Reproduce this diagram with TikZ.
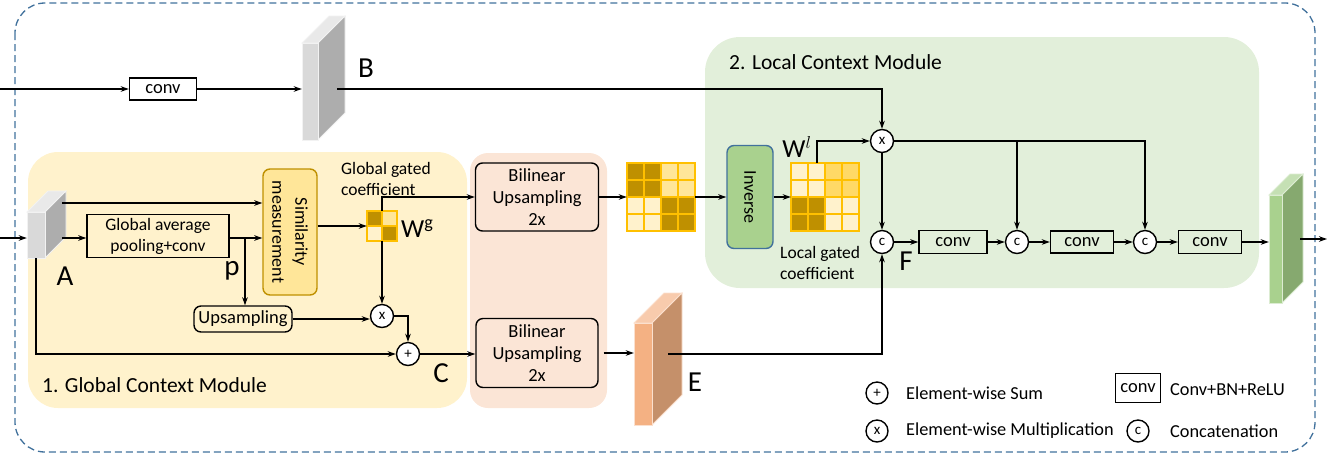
\documentclass[tikz,border=0pt]{standalone}
\usepackage{fontspec}
\setmainfont{Carlito}
\usetikzlibrary{arrows.meta,positioning}

\definecolor{frameblue}{HTML}{41719C}
\definecolor{gcmbg}{HTML}{FFF2CC}
\definecolor{upbg}{HTML}{FBE5D6}
\definecolor{lcmbg}{HTML}{E2EFDA}
\definecolor{simfill}{HTML}{FFE699}
\definecolor{simdraw}{HTML}{BF9000}
\definecolor{invfill}{HTML}{A9D18E}
\definecolor{invdraw}{HTML}{41719C}
\definecolor{gdark}{HTML}{BF9000}
\definecolor{glight}{HTML}{FFE699}
\definecolor{gmid}{HTML}{FFD966}
\definecolor{gpale}{HTML}{FFF2CC}
\definecolor{gline}{HTML}{FFC000}
\definecolor{grayfront}{HTML}{D9D9D9}
\definecolor{grayside}{HTML}{ADADAD}
\definecolor{graytop}{HTML}{E9E9E9}
\definecolor{orfront}{HTML}{F4B183}
\definecolor{orside}{HTML}{C5906A}
\definecolor{ortop}{HTML}{F8CBAD}
\definecolor{grfront}{HTML}{A9D18E}
\definecolor{grside}{HTML}{86A96F}
\definecolor{grtop}{HTML}{C5E0B4}

% feature map slab: name, x, y (front top left), width, height, depth, front, side, top
\newcommand{\featmap}[9]{%
  \filldraw[fill=#9, draw=#9!60!white, line width=0.8pt] (#2,#3) -- ++(#6,-#6) -- ++(#4,0) -- ++(-#6,#6) -- cycle;
  \filldraw[fill=#8, draw=#9!60!white, line width=0.8pt] (#2+#4,#3) -- ++(#6,-#6) -- ++(0,#5) -- ++(-#6,#6) -- cycle;
  \filldraw[fill=#7, draw=#9!60!white, line width=0.8pt] (#2,#3) rectangle ++(#4,#5);
  \node[inner sep=0, minimum width=#4pt, minimum height=#5pt] (#1) at (#2+#4/2,#3+#5/2) {};
}

% gated coefficient grid: name, centre x, centre y, cells per side, cell size, colours
\newcommand{\gategrid}[6]{%
  \foreach \clr [count=\k from 0] in {#6} {
    \pgfmathtruncatemacro{\gc}{mod(\k,#4)}
    \pgfmathtruncatemacro{\gr}{floor(\k/#4)}
    \filldraw[fill=\clr, draw=gline, line width=1.2pt] (#2-#4*#5/2+\gc*#5, #3-#4*#5/2+\gr*#5) rectangle ++(#5,#5);
  }
  \node[inner sep=0, minimum size={#4*#5*1pt}] (#1) at (#2,#3) {};
}

\begin{document}
\begin{tikzpicture}[x=1pt, y=-1pt,
    line/.style={line width=1.3pt},
    arr/.style={line, -{Stealth[length=8pt,width=5.5pt]}},
    frame/.style={draw=frameblue, dash pattern=on 7pt off 4pt, line width=1.3pt, rounded corners=30pt},
    convbox/.style={draw, line width=1.4pt, inner sep=0, font=\fontsize{18.5}{21}\selectfont},
    rbox/.style={draw, line width=1.4pt, rounded corners=7pt, inner sep=0, align=center, font=\fontsize{18.5}{22}\selectfont},
    op/.style={circle, draw, fill=white, line width=1.4pt, minimum size=23pt, inner sep=0, font=\fontsize{15}{15}\selectfont},
    letter/.style={inner sep=0, font=\fontsize{29}{29}\selectfont},
    wlabel/.style={inner sep=0, font=\fontsize{26}{26}\selectfont},
    note/.style={inner sep=0, anchor=west, align=left, font=\fontsize{17.5}{21}\selectfont},
    title/.style={inner sep=0, anchor=west, font=\fontsize{21.5}{24}\selectfont},
    legend/.style={inner sep=0, anchor=west, font=\fontsize{18.3}{20}\selectfont}]
\useasboundingbox (0,0) rectangle (1332,459);

% backgrounds
\draw[frame] (15,3) rectangle (1315,452);
\fill[gcmbg, rounded corners=30pt] (28,152) rectangle (467,408);
\fill[upbg, rounded corners=18pt] (470,153) rectangle (607,408);
\fill[lcmbg, rounded corners=35pt] (705,37) rectangle (1259,288);

\node[title] (gtitle) at (42,385) {1. Global Context Module};
\node[title] (ltitle) at (729,62) {2. Local Context Module};

% feature maps
\featmap{A}{27}{212}{18}{46}{21}{grayfront}{grayside}{graytop}
\featmap{B}{302}{43}{16}{97}{27}{grayfront}{grayside}{graytop}
\featmap{E}{634}{323}{18}{102}{30}{orfront}{orside}{ortop}
\featmap{out}{1269}{195}{13}{108}{21}{grfront}{grside}{grtop}

% global context module
\node[convbox, minimum width=67pt, minimum height=22pt] (conv0) at (163,89) {conv};
\node[convbox, fill=gcmbg, minimum width=142pt, minimum height=43pt, align=center, font=\fontsize{17.5}{21}\selectfont] (gap) at (158,236) {Global average\\pooling+conv};
\node[rbox, fill=simfill, draw=simdraw, minimum width=54pt, minimum height=126pt] (sim) at (290,232) {};
\node[rotate=-90, align=center, font=\fontsize{18}{23}\selectfont] (simtxt) at (sim) {Similarity\\measurement};
\node[rbox, fill=gcmbg, minimum width=98pt, minimum height=26pt] (ups) at (243,319) {Upsampling};
\gategrid{wg}{382}{226}{2}{15}{gdark,glight,gpale,gdark}
\node[op] (mul1) at (382,316) {x};
\node[op] (add) at (408,354) {+};

% upsampling
\node[rbox, fill=upbg, minimum width=123pt, minimum height=68pt] (bil1) at (537,197) {Bilinear\\Upsampling\\2x};
\node[rbox, fill=upbg, minimum width=122pt, minimum height=69pt] (bil2) at (537,353) {Bilinear\\Upsampling\\2x};
\gategrid{gup}{661}{197}{4}{17}{gdark,gdark,glight,glight,gdark,gdark,glight,glight,gpale,gpale,gdark,gdark,gpale,gpale,gdark,gdark}

% local context module
\node[rbox, fill=invfill, draw=invdraw, minimum width=46pt, minimum height=103pt] (inv) at (750,197) {};
\node[rotate=-90, font=\fontsize{18}{20}\selectfont] (invtxt) at (inv) {Inverse};
\gategrid{wl}{825}{197}{4}{17}{gpale,gpale,gmid,gmid,gpale,gpale,gmid,gmid,gdark,gdark,gpale,gpale,gdark,gdark,gpale,gpale}
\node[op] (mul2) at (882,141) {x};
\node[op] (cat1) at (882,242) {c};
\node[convbox, minimum width=68pt, minimum height=23pt] (conv1) at (953,242) {conv};
\node[op] (cat2) at (1017,242) {c};
\node[convbox, minimum width=63pt, minimum height=22pt] (conv2) at (1082,242) {conv};
\node[op] (cat3) at (1145,242) {c};
\node[convbox, minimum width=63pt, minimum height=23pt] (conv3) at (1210,242) {conv};

% labels
\node[letter] (lA) at (65,276) {A};
\node[letter] (lB) at (366,68) {B};
\node[letter] (lC) at (441,373) {C};
\node[letter] (lE) at (695,382) {E};
\node[letter] (lF) at (906,261) {F};
\node[letter] (lp) at (232,271) {p};
\node[wlabel, anchor=west] (lwg) at (401,229) {W\textsuperscript{g}};
\node[wlabel] (lwl) at (797,147) {W$^{l}$};
\node[note] (gtxt) at (341,179) {Global gated\\coefficient};
\node[note] (ltxt) at (780,263) {Local gated\\coefficient};

% connectors
\coordinate (in1) at (0,89);
\coordinate (inA) at (0,238);
\coordinate (Bout) at (337,89);
\coordinate (Aup) at (62,203);
\coordinate (Amid) at (62,238);
\coordinate (pbr) at (245,238);
\coordinate (Eout) at (668,354);
\coordinate (outstart) at (1300,239);
\coordinate (outend) at (1327,239);

\draw[arr] (in1) -- (conv0);
\draw[arr] (conv0.east) -- (conv0.east -| B.west);
\draw[arr] (Bout) -| (mul2.north);
\draw[arr] (inA) -- (inA -| A.west);
\draw[arr] (Aup) -- (Aup -| sim.west);
\draw[arr] (Amid) -- (Amid -| gap.west);
\draw[arr] (Amid -| gap.east) -- (Amid -| sim.west);
\draw[arr] (pbr) -- (pbr |- ups.north);
\draw[arr] (sim.east |- wg.west) -- (wg.west);
\draw[arr] (wg.north) |- (bil1.west);
\draw[arr] (wg.south) -- (mul1.north);
\draw[arr] (ups.east) -- (ups.east -| mul1.west);
\draw[arr] (mul1.east) -| (add.north);
\draw[arr] (A.south) |- (add.west);
\draw[arr] (add.east) -- (add.east -| bil2.west);
\draw[arr] (bil1.east) -- (gup.west);
\draw[arr] (gup.east) -- (inv.west);
\draw[arr] (inv.east) -- (wl.west);
\draw[arr] ([xshift=-8pt]wl.north) |- (mul2.west);
\draw[arr, shorten <=5pt] (bil2.east) -- (bil2.east -| E.west);
\draw[arr] (Eout) -| (cat1.south);
\draw[arr] (mul2.south) -- (cat1.north);
\draw[arr] (mul2.east) -| (cat3.north);
\draw[arr] (cat2.north |- mul2.east) -- (cat2.north);
\draw[arr] (cat1) -- (conv1);
\draw[arr] (conv1) -- (cat2);
\draw[arr] (cat2) -- (conv2);
\draw[arr] (conv2) -- (cat3);
\draw[arr] (cat3) -- (conv3);
\draw[arr] (conv3.east) -- (conv3.east -| out.west);
\draw[arr] (outstart) -- (outend);

% legend
\node[op, minimum size=22pt] (lgadd) at (877,393) {+};
\node[legend] (lgaddt) at (906,393) {Element-wise Sum};
\node[op, minimum size=22pt] (lgmul) at (877,431) {x};
\node[legend] (lgmult) at (906,431) {Element-wise Multiplication};
\node[convbox, minimum width=45pt, minimum height=29pt] (lgconv) at (1138,388) {conv};
\node[legend] (lgconvt) at (1170,390) {Conv+BN+ReLU};
\node[op, minimum size=22pt] (lgcat) at (1138,431) {c};
\node[legend] (lgcatt) at (1170,431) {Concatenation};
\end{tikzpicture}
\end{document}
